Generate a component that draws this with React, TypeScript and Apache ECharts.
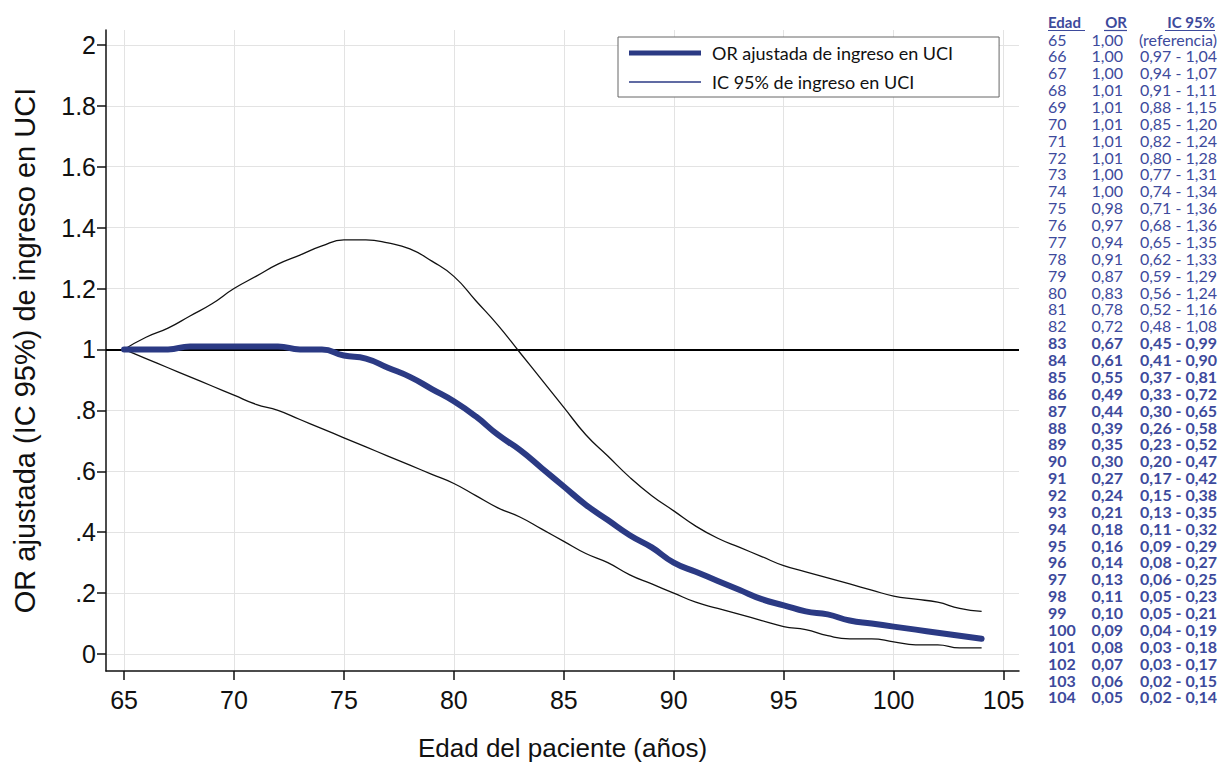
import React, { useEffect, useRef } from "react";
import * as echarts from "echarts";

const ages = [65,66,67,68,69,70,71,72,73,74,75,76,77,78,79,80,81,82,83,84,85,86,87,88,89,90,91,92,93,94,95,96,97,98,99,100,101,102,103,104];
const orValues = [1.00,1.00,1.00,1.01,1.01,1.01,1.01,1.01,1.00,1.00,0.98,0.97,0.94,0.91,0.87,0.83,0.78,0.72,0.67,0.61,0.55,0.49,0.44,0.39,0.35,0.30,0.27,0.24,0.21,0.18,0.16,0.14,0.13,0.11,0.10,0.09,0.08,0.07,0.06,0.05];
const ciLow = [1.00,0.97,0.94,0.91,0.88,0.85,0.82,0.80,0.77,0.74,0.71,0.68,0.65,0.62,0.59,0.56,0.52,0.48,0.45,0.41,0.37,0.33,0.30,0.26,0.23,0.20,0.17,0.15,0.13,0.11,0.09,0.08,0.06,0.05,0.05,0.04,0.03,0.03,0.02,0.02];
const ciHigh = [1.00,1.04,1.07,1.11,1.15,1.20,1.24,1.28,1.31,1.34,1.36,1.36,1.35,1.33,1.29,1.24,1.16,1.08,0.99,0.90,0.81,0.72,0.65,0.58,0.52,0.47,0.42,0.38,0.35,0.32,0.29,0.27,0.25,0.23,0.21,0.19,0.18,0.17,0.15,0.14];
const xTicks = [65, 70, 75, 80, 85, 90, 95, 100, 105];
const yTicks = [0, 0.2, 0.4, 0.6, 0.8, 1, 1.2, 1.4, 1.6, 1.8, 2];
const referenceAge = 65;

const OR_NAME = "OR ajustada de ingreso en UCI";
const CI_NAME = "IC 95% de ingreso en UCI";
const TABLE_COLOR = "#3d4a9c";
const NAVY = "#2b3a84";

const fmt = (v: number) => v.toFixed(2).replace(".", ",");
const yFmt = (v: number) => {
  const r = Math.round(v * 10) / 10;
  if (r === 0) return "0";
  const s = String(r);
  return s.startsWith("0.") ? s.slice(1) : s;
};

export default function App() {
  const ref = useRef<HTMLDivElement>(null);
  useEffect(() => {
    if (!ref.current) return;
    const chart = echarts.init(ref.current, undefined, { renderer: "svg" });

    const rowTop = 39;
    const rowStep = 16.87;
    const tableFont = "Lato, 'Noto Sans', sans-serif";
    const tableEls: any[] = [];
    const headers = [
      { text: "Edad", x: 1048, align: "left", ux1: 1048, ux2: 1085 },
      { text: "OR", x: 1127, align: "right", ux1: 1104, ux2: 1127 },
      { text: "IC 95%", x: 1215, align: "right", ux1: 1165, ux2: 1215 },
    ];
    headers.forEach((h) => {
      tableEls.push({
        type: "text", x: h.x, y: 22,
        style: { text: h.text, fill: TABLE_COLOR, font: `bold 15px ${tableFont}`, lineHeight: 15, textAlign: h.align, textVerticalAlign: "middle" },
      });
      tableEls.push({
        type: "line", shape: { x1: h.ux1, y1: 30.5, x2: h.ux2, y2: 30.5 },
        style: { stroke: TABLE_COLOR, lineWidth: 1.2 },
      });
    });
    ages.forEach((a, i) => {
      const y = rowTop + i * rowStep;
      const bold = ciHigh[i] < 1 || ciLow[i] > 1;
      const font = `${bold ? "bold " : ""}16px ${tableFont}`;
      const ci = a === referenceAge ? "(referencia)" : `${fmt(ciLow[i])} - ${fmt(ciHigh[i])}`;
      const base = { fill: TABLE_COLOR, font, lineHeight: 15, textVerticalAlign: "middle" };
      tableEls.push({ type: "text", x: 1048, y, style: { ...base, text: String(a), textAlign: "left" } });
      tableEls.push({ type: "text", x: 1123, y, style: { ...base, text: fmt(orValues[i]), textAlign: "right" } });
      tableEls.push({ type: "text", x: 1217, y, style: { ...base, text: ci, textAlign: "right" } });
    });

    const axisFont = "'Liberation Sans', Arial, sans-serif";

    chart.setOption({
      animation: false,
      backgroundColor: "#ffffff",
      textStyle: { fontFamily: axisFont },
      grid: { left: 106, right: 199, top: 30, bottom: 94, containLabel: false, outerBoundsMode: "none" },
      xAxis: {
        type: "value",
        min: 64.18,
        max: 105.7,
        name: "Edad del paciente (años)",
        nameLocation: "middle",
        nameGap: 64,
        nameTextStyle: { fontSize: 26, color: "#111", fontFamily: axisFont },
        axisLine: { show: true, onZero: false, lineStyle: { color: "#111", width: 1.5 } },
        axisTick: { show: true, inside: false, length: 9, customValues: xTicks, lineStyle: { color: "#111", width: 1.5 } },
        axisLabel: { customValues: xTicks, fontSize: 25, color: "#111", margin: 16, formatter: (v: number) => String(Math.round(v)) },
        splitLine: { show: true, lineStyle: { color: "#e3e3e3", width: 1 } },
      },
      yAxis: {
        type: "value",
        min: -0.0558,
        max: 2.049,
        name: "OR ajustada (IC 95%) de ingreso en UCI",
        nameLocation: "middle",
        nameGap: 67,
        nameTextStyle: { fontSize: 29, color: "#111", fontFamily: axisFont },
        axisLine: { show: true, onZero: false, lineStyle: { color: "#111", width: 1.5 } },
        axisTick: { show: true, inside: false, length: 9, customValues: yTicks, lineStyle: { color: "#111", width: 1.5 } },
        axisLabel: { customValues: yTicks, fontSize: 25, color: "#111", margin: 10, formatter: (v: number) => yFmt(v) },
        splitLine: { show: true, lineStyle: { color: "#e3e3e3", width: 1 } },
      },
      legend: {
        orient: "vertical",
        left: 618,
        top: 37,
        itemWidth: 72,
        itemHeight: 14,
        itemGap: 11,
        padding: [7, 46, 6, 11],
        backgroundColor: "#ffffff",
        borderColor: "#666666",
        borderWidth: 1,
        textStyle: { fontFamily: tableFont, fontSize: 18, color: "#111", padding: [0, 0, 0, 6] },
        data: [
          { name: OR_NAME, icon: "path://M0 0H72V5H0Z", itemStyle: { color: NAVY } },
          { name: CI_NAME, icon: "path://M0 0H72V1.3H0Z", itemStyle: { color: NAVY } },
        ],
      },
      series: [
        {
          name: CI_NAME,
          type: "line",
          data: ages.map((a, i) => [a, ciHigh[i]]),
          smooth: 0.5,
          symbol: "none",
          lineStyle: { color: "#111", width: 1.3 },
          itemStyle: { color: "#111" },
          z: 3,
        },
        {
          name: CI_NAME,
          type: "line",
          data: ages.map((a, i) => [a, ciLow[i]]),
          smooth: 0.5,
          symbol: "none",
          lineStyle: { color: "#111", width: 1.3 },
          itemStyle: { color: "#111" },
          z: 3,
        },
        {
          name: OR_NAME,
          type: "line",
          data: ages.map((a, i) => [a, orValues[i]]),
          smooth: 0.5,
          symbol: "none",
          lineStyle: { color: NAVY, width: 6, cap: "round" },
          itemStyle: { color: NAVY },
          z: 4,
          markLine: {
            silent: true,
            symbol: "none",
            label: { show: false },
            lineStyle: { color: "#000", width: 2, type: "solid" },
            data: [{ yAxis: 1 }],
            z: 2,
          },
        },
      ],
      graphic: tableEls,
    });
    return () => chart.dispose();
  }, []);
  return <div ref={ref} style={{ position: "absolute", left: 0, top: 0, width: 1218, height: 765 }} />;
}
